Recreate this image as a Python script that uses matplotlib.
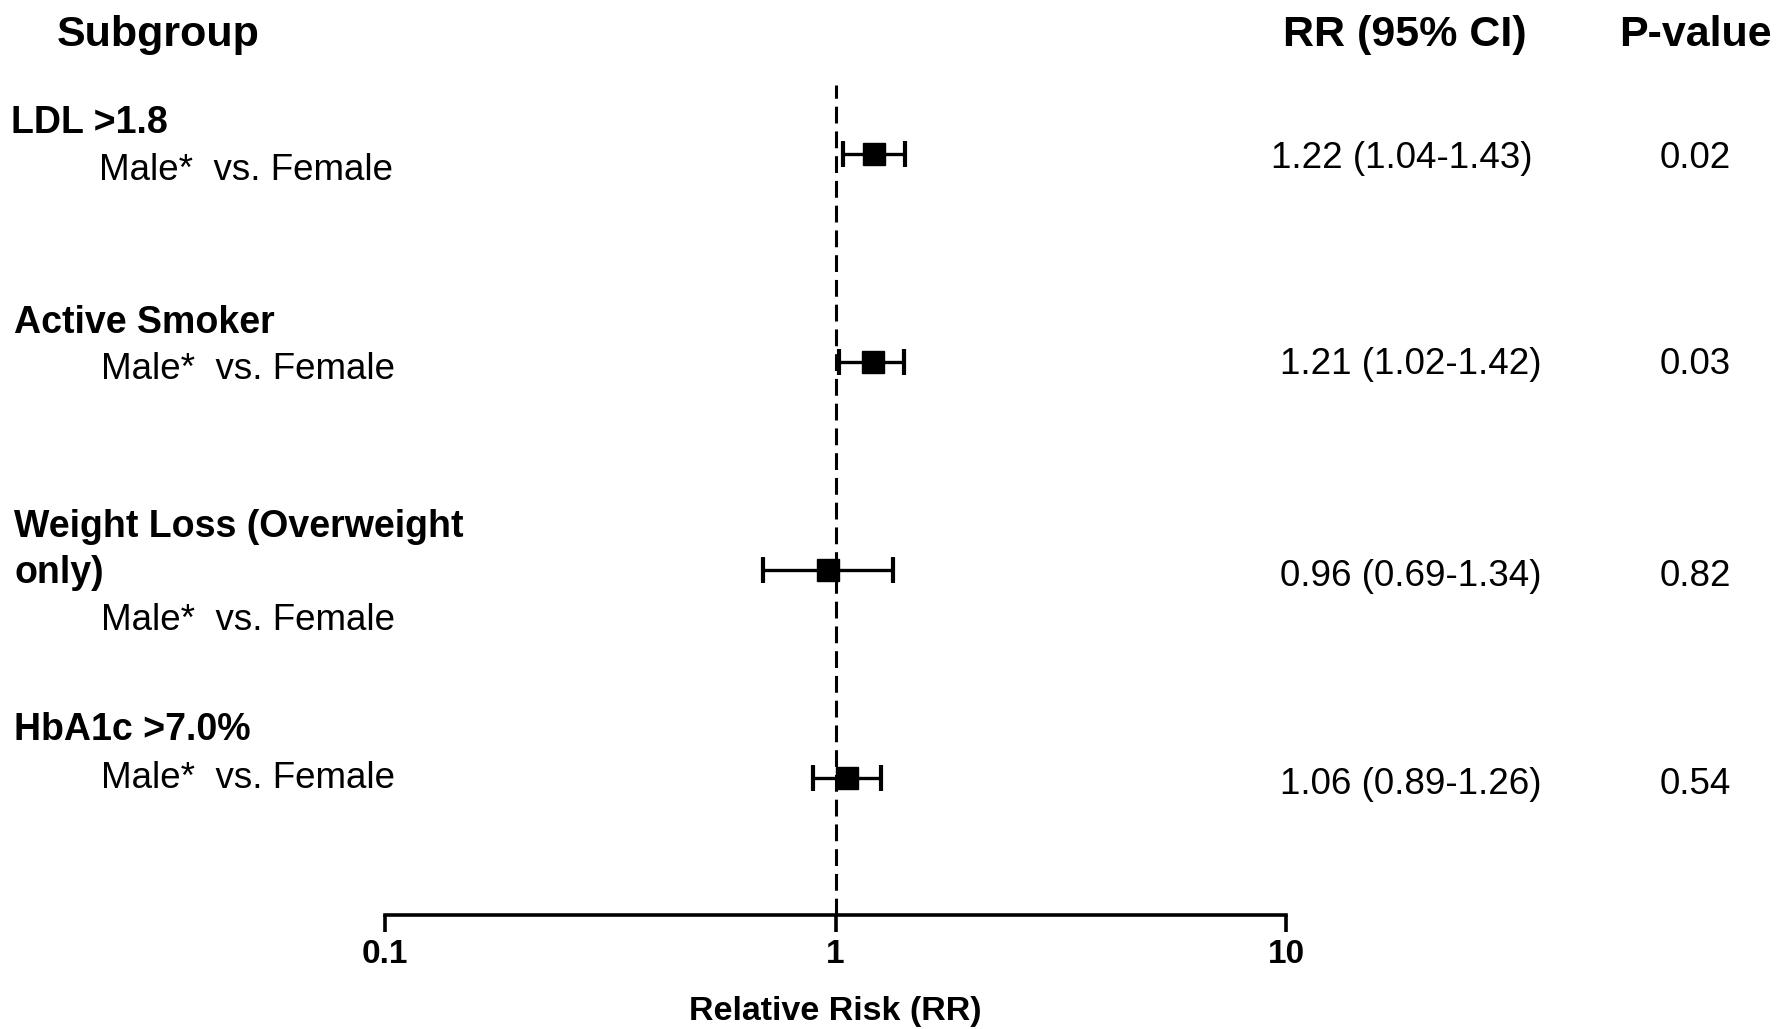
import matplotlib
matplotlib.use("Agg")
import matplotlib.pyplot as plt

plt.rcParams["font.family"] = ["Liberation Sans", "DejaVu Sans"]

# subgroup results, top to bottom
subgroups = ["LDL >1.8", "Active Smoker", "Weight Loss (Overweight\nonly)", "HbA1c >7.0%"]
comparison = "Male*  vs. Female"
rr = [1.22, 1.21, 0.96, 1.06]
ci_low = [1.04, 1.02, 0.69, 0.89]
ci_high = [1.43, 1.42, 1.34, 1.26]
p_values = ["0.02", "0.03", "0.82", "0.54"]
x_ticks = [0.1, 1, 10]
x_ticklabels = ["0.1", "1", "10"]

W, H = 1787, 1029
fig = plt.figure(figsize=(W / 100, H / 100), dpi=100)


def px(x, y):
    # pixel position from the top-left corner -> figure fraction
    return x / W, 1 - (y + 4) / H


ax = fig.add_axes([385 / W, 114 / H, 901 / W, 830 / H])
ax.set_xscale("log")
ax.set_xlim(0.1, 10)
ax.set_ylim(0.34, 4.33)

row_y = [4, 3, 2, 1]
err_lo = [r - l for r, l in zip(rr, ci_low)]
err_hi = [h - r for r, h in zip(rr, ci_high)]

ax.axvline(1, color="black", lw=2.2, dashes=(5.5, 2.6), zorder=1)
ax.errorbar(rr, row_y, xerr=[err_lo, err_hi], fmt="s", color="black",
            ms=16.5, elinewidth=2.4, capsize=9.7, capthick=3, zorder=3)

for side in ["top", "right", "left"]:
    ax.spines[side].set_visible(False)
ax.spines["bottom"].set_linewidth(2.6)
ax.set_yticks([])
ax.set_xticks(x_ticks)
ax.set_xticklabels(x_ticklabels, fontsize=24, fontweight="bold")
ax.xaxis.set_minor_locator(matplotlib.ticker.NullLocator())
ax.tick_params(axis="x", length=12, width=2.6, pad=5)
ax.set_xlabel("Relative Risk (RR)", fontsize=24.5, fontweight="bold", labelpad=19)

# column headers
fig.text(*px(57, 31), "Subgroup", fontsize=31, fontweight="bold", ha="left", va="center")
fig.text(*px(1405, 31), "RR (95% CI)", fontsize=31, fontweight="bold", ha="center", va="center")
fig.text(*px(1695, 31), "P-value", fontsize=31, fontweight="bold", ha="center", va="center")

# subgroup labels and result columns
label_pos = [(11, 119), (14, 319), (14, 546), (14, 726)]
comp_pos = [(99, 166), (101, 366), (101, 617), (101, 774)]
rr_pos = [(1402, 154), (1411, 361), (1411, 573), (1411, 781)]
for i in range(len(subgroups)):
    fig.text(*px(*label_pos[i]), subgroups[i], fontsize=27, fontweight="bold",
             ha="left", va="center", linespacing=1.33)
    fig.text(*px(*comp_pos[i]), comparison, fontsize=26.5, ha="left", va="center")
    txt = f"{rr[i]:.2f} ({ci_low[i]:.2f}-{ci_high[i]:.2f})"
    fig.text(*px(*rr_pos[i]), txt, fontsize=26.5, ha="center", va="center")
    fig.text(*px(1695, rr_pos[i][1]), p_values[i], fontsize=26.5, ha="center", va="center")

fig.savefig("out.png", dpi=100)
